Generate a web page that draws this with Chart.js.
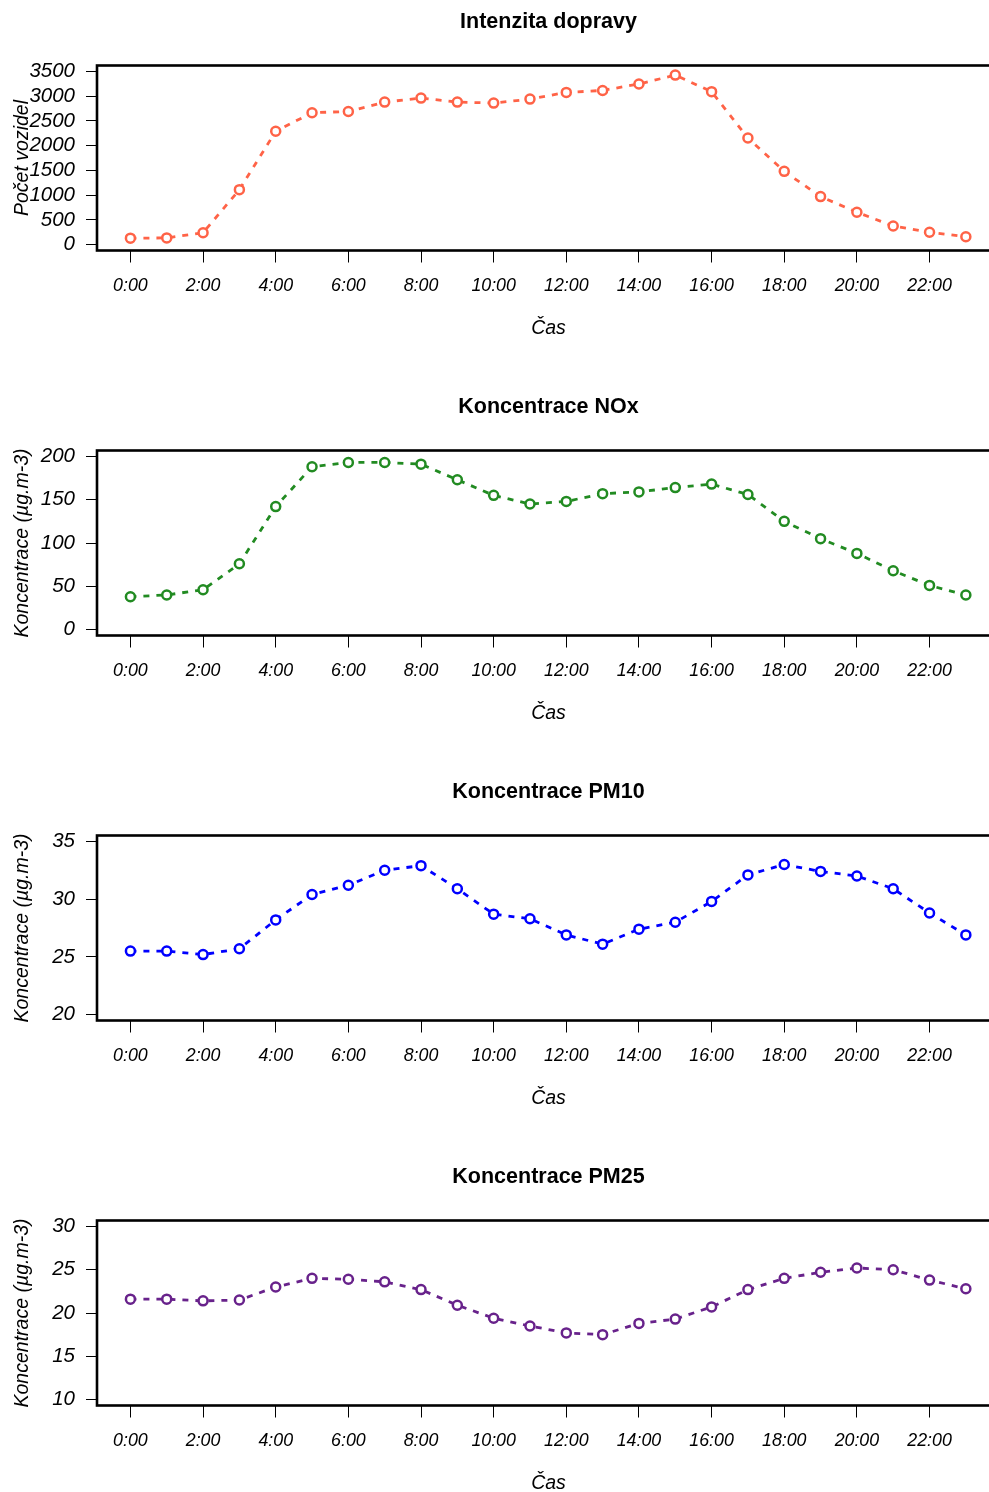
<!DOCTYPE html>
<html><head><meta charset="utf-8">
<script src="https://cdn.jsdelivr.net/npm/chart.js@4.4.1/dist/chart.umd.min.js"></script>
<style>
html,body{margin:0;padding:0;overflow:hidden;background:#fff;width:989px;height:1492px;}
canvas{display:block;}
</style></head><body>
<canvas id="c0" width="1000" height="385"></canvas>
<canvas id="c1" width="1000" height="385"></canvas>
<canvas id="c2" width="1000" height="385"></canvas>
<canvas id="c3" width="1000" height="385"></canvas>
<script>
const hours = [0,1,2,3,4,5,6,7,8,9,10,11,12,13,14,15,16,17,18,19,20,21,22,23];
const hourTicks = [0,2,4,6,8,10,12,14,16,18,20,22];
const hourTickLabels = ['0:00','2:00','4:00','6:00','8:00','10:00','12:00','14:00','16:00','18:00','20:00','22:00'];

const traffic = [130,135,240,1110,2290,2665,2690,2880,2960,2880,2860,2940,3075,3115,3245,3425,3090,2155,1480,970,655,375,250,160];
const nox = [38,40,46,76,142,188,193,193,191,173,155,145,148,157,159,164,168,156,125,105,88,68,51,40];
const pm10 = [25.5,25.5,25.2,25.7,28.2,30.4,31.2,32.5,32.9,30.9,28.7,28.3,26.9,26.1,27.4,28.0,29.8,32.1,33.0,32.4,32.0,30.9,28.8,26.9];
const pm25 = [21.6,21.6,21.4,21.5,23.0,24.0,23.9,23.6,22.7,20.9,19.4,18.5,17.7,17.5,18.8,19.3,20.7,22.7,24.0,24.7,25.2,25.0,23.8,22.8];

const yTicksTraffic = [0,500,1000,1500,2000,2500,3000,3500];
const yTicksNox = [0,50,100,150,200];
const yTicksPm10 = [20,25,30,35];
const yTicksPm25 = [10,15,20,25,30];

const panelTitles = ['Intenzita dopravy','Koncentrace NOx','Koncentrace PM10','Koncentrace PM25'];
const yTitles = ['Počet vozidel','Koncentrace (µg.m-3)','Koncentrace (µg.m-3)','Koncentrace (µg.m-3)'];
const xTitle = 'Čas';

const FAM = "'Liberation Sans', Arial, Helvetica, sans-serif";
const X_MIN = -0.92, X_MAX = 23.94;

const boxPlugin = {
  id: 'box',
  afterDraw(chart) {
    const {ctx, chartArea: a} = chart;
    ctx.save();
    ctx.strokeStyle = '#000';
    ctx.lineWidth = 2.6;
    ctx.strokeRect(a.left, a.top, a.right - a.left, a.bottom - a.top);
    ctx.restore();
  }
};

function rlim(ticks) {
  const lo = ticks[0], hi = ticks[ticks.length - 1];
  const ext = (hi - lo) * 0.034;
  return [lo - ext, hi + ext];
}

function makeChart(id, values, color, title, yTitle, yTicks) {
  const [yMin, yMax] = rlim(yTicks);
  new Chart(document.getElementById(id), {
    type: 'line',
    data: {
      datasets: [{
        data: hours.map((h, i) => ({x: h, y: values[i]})),
        borderColor: color,
        borderWidth: 2.8,
        borderDash: [6, 7],
        pointRadius: 4.5,
        pointBorderWidth: 2.5,
        pointBackgroundColor: '#fff',
        pointBorderColor: color,
        tension: 0,
        fill: false,
        xAxisID: 'x',
        yAxisID: 'y'
      }]
    },
    options: {
      responsive: false,
      animation: false,
      devicePixelRatio: 1,
      layout: {padding: 0, autoPadding: false},
      plugins: {legend: {display: false}, tooltip: {enabled: false}, title: {display: false}},
      scales: {
        top: {
          type: 'linear', position: 'top', min: X_MIN, max: X_MAX,
          ticks: {display: false}, grid: {display: false}, border: {display: false},
          title: {display: true, text: title, color: '#000',
                  font: {family: FAM, size: 21.5, weight: 'bold'}, padding: {top: 9.6, bottom: 0}},
          afterFit(s) { s.height = 65.5; s.paddingLeft = 0; s.paddingRight = 0; }
        },
        x: {
          type: 'linear', position: 'bottom', min: X_MIN, max: X_MAX,
          afterBuildTicks(s) { s.ticks = hourTicks.map(v => ({value: v})); },
          ticks: {
            callback: (v) => hourTickLabels[hourTicks.indexOf(v)],
            color: '#000', font: {family: FAM, size: 17.8, style: 'italic'},
            padding: 13, maxRotation: 0, autoSkip: false
          },
          grid: {drawOnChartArea: false, drawTicks: true, tickLength: 12, color: '#000', tickColor: '#000', lineWidth: 1},
          border: {display: false},
          title: {display: true, text: xTitle, color: '#000',
                  font: {family: FAM, size: 19.5, style: 'italic'}, padding: {top: 0, bottom: 44.3}},
          afterFit(s) { s.height = 134.5; s.paddingLeft = 0; s.paddingRight = 0; }
        },
        y: {
          type: 'linear', position: 'left', min: yMin, max: yMax,
          afterBuildTicks(s) { s.ticks = yTicks.map(v => ({value: v})); },
          ticks: {
            callback: (v) => String(v),
            color: '#000', font: {family: FAM, size: 20.5, style: 'italic'}, padding: 11,
            autoSkip: false
          },
          grid: {drawOnChartArea: false, drawTicks: true, tickLength: 11, color: '#000', tickColor: '#000', lineWidth: 1},
          border: {display: false},
          title: {display: true, text: yTitle, color: '#000',
                  font: {family: FAM, size: 19.5, style: 'italic'}, padding: {top: 10.8, bottom: 0}},
          afterFit(s) { s.width = 97; s.paddingTop = 0; s.paddingBottom = 0; }
        }
      }
    },
    plugins: [boxPlugin]
  });
}

makeChart('c0', traffic, '#FF6347', panelTitles[0], yTitles[0], yTicksTraffic);
makeChart('c1', nox, '#228B22', panelTitles[1], yTitles[1], yTicksNox);
makeChart('c2', pm10, '#0000FF', panelTitles[2], yTitles[2], yTicksPm10);
makeChart('c3', pm25, '#68228B', panelTitles[3], yTitles[3], yTicksPm25);
</script>
</body></html>
